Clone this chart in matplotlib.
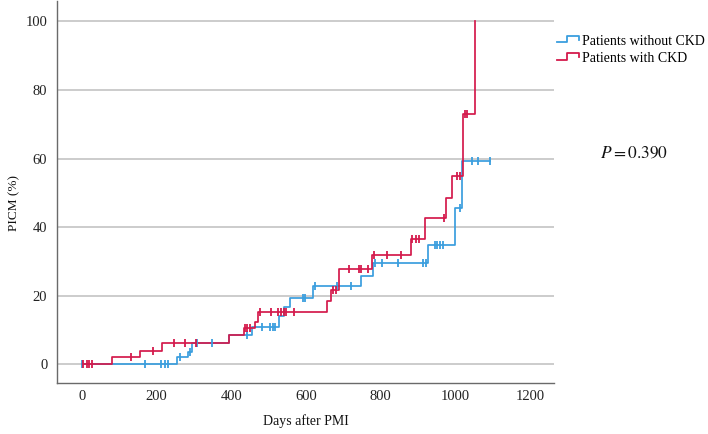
import numpy as np
import matplotlib
matplotlib.use("Agg")
import matplotlib.pyplot as plt
from matplotlib.legend_handler import HandlerBase
from matplotlib.lines import Line2D

# ---------------- data ----------------
# Patients without CKD (blue): cumulative incidence step function
blue_times = [0, 256, 285, 294, 395, 455, 528, 540, 557, 618, 746, 780, 927, 998, 1016]
blue_values = [0, 2.0, 3.7, 6.1, 8.6, 11.0, 14.0, 16.8, 19.3, 22.7, 25.7, 29.4, 34.8, 45.5, 59.3]
blue_censor = [1, 169, 211, 223, 230, 263, 289, 309, 348, 441, 481, 503, 512, 517,
               593, 597, 624, 683, 719, 784, 802, 846, 913, 921, 945, 951, 958, 965,
               1011, 1043, 1060, 1092]

# Patients with CKD (red)
red_times = [0, 82, 156, 214, 395, 435, 463, 472, 657, 668, 688, 775, 880, 919, 973, 991, 1020, 1052]
red_values = [0, 2.0, 3.9, 6.1, 8.6, 10.5, 12.4, 15.3, 18.5, 21.7, 27.7, 31.9, 36.4, 42.6, 48.6, 55.0, 73.0, 100]
red_censor = [3, 13, 20, 28, 132, 190, 248, 276, 307, 437, 443, 450, 478, 507, 524, 533,
              541, 546, 568, 672, 679, 716, 742, 747, 765, 782, 817, 853, 882, 894, 903,
              969, 1003, 1011, 1025, 1031]

series_labels = ["Patients without CKD", "Patients with CKD"]
x_ticks = [0, 200, 400, 600, 800, 1000, 1200]
y_ticks = [0, 20, 40, 60, 80, 100]
p_text = r"$P = 0.390$"

BLUE = "#3a9ede"
RED = "#d41a4c"

plt.rcParams["font.family"] = ["Liberation Serif", "DejaVu Serif"]
plt.rcParams["mathtext.fontset"] = "stix"

fig = plt.figure(figsize=(7.08, 4.34), dpi=100)
ax = fig.add_axes([0.0805, 0.1175, 0.702, 0.880])


def step_lookup(times, values, pts):
    idx = np.searchsorted(np.asarray(times), np.asarray(pts), side="right") - 1
    return np.asarray(values)[idx]


def draw(times, values, censor, color, end):
    xs = list(times) + [end]
    ys = list(values) + [values[-1]]
    ax.step(xs, ys, where="post", color=color, lw=1.25, zorder=3)
    cy = step_lookup(times, values, censor)
    ax.plot(censor, cy, ls="none", marker="|", ms=6, mew=1.3, color=color, zorder=4)


draw(blue_times, blue_values, blue_censor, BLUE, max(blue_censor))
draw(red_times, red_values, red_censor, RED, red_times[-1])

ax.set_xlim(-66, 1263)
ax.set_ylim(-5.45, 105.9)
ax.set_xticks(x_ticks)
ax.set_yticks(y_ticks)
ax.tick_params(axis="both", length=0, labelsize=10.5, colors="#222222")
ax.tick_params(axis="x", pad=5)
ax.tick_params(axis="y", pad=7)
ax.yaxis.grid(True, color="#c4c4c4", lw=1.2)
ax.set_axisbelow(True)
for s in ["top", "right"]:
    ax.spines[s].set_visible(False)
for s in ["left", "bottom"]:
    ax.spines[s].set_color("#6a6a6a")
    ax.spines[s].set_linewidth(1.0)

ax.set_xlabel("Days after PMI", fontsize=10, color="#111111", va="center")
ax.xaxis.set_label_coords(0.5, -0.0995)
ax.set_ylabel("PICM (%)", fontsize=9.5, color="#111111", va="center")
ax.yaxis.set_label_coords(-0.0865, 0.471)


class StepHandler(HandlerBase):
    def create_artists(self, legend, orig_handle, xdescent, ydescent, width, height, fontsize, trans):
        x0 = -xdescent
        y0 = -ydescent
        xs = [x0, x0 + 0.45 * width, x0 + 0.45 * width, x0 + width, x0 + width]
        ys = [y0 + 0.2 * height, y0 + 0.2 * height, y0 + 0.9 * height, y0 + 0.9 * height, y0 + 0.45 * height]
        ln = Line2D(xs, ys, color=orig_handle.get_color(), lw=1.3, transform=trans)
        return [ln]


h1 = Line2D([], [], color=BLUE)
h2 = Line2D([], [], color=RED)
leg = fig.legend([h1, h2], series_labels, loc="upper left", bbox_to_anchor=(0.787, 0.92),
                 frameon=False, fontsize=10, handler_map={Line2D: StepHandler()},
                 handlelength=1.6, handleheight=0.6, handletextpad=0.15, labelspacing=0.3,
                 borderaxespad=0, borderpad=0)

fig.text(0.896, 0.647, p_text, fontsize=12.5, ha="center", va="center", color="#111111")

fig.savefig("out.png", dpi=100)
